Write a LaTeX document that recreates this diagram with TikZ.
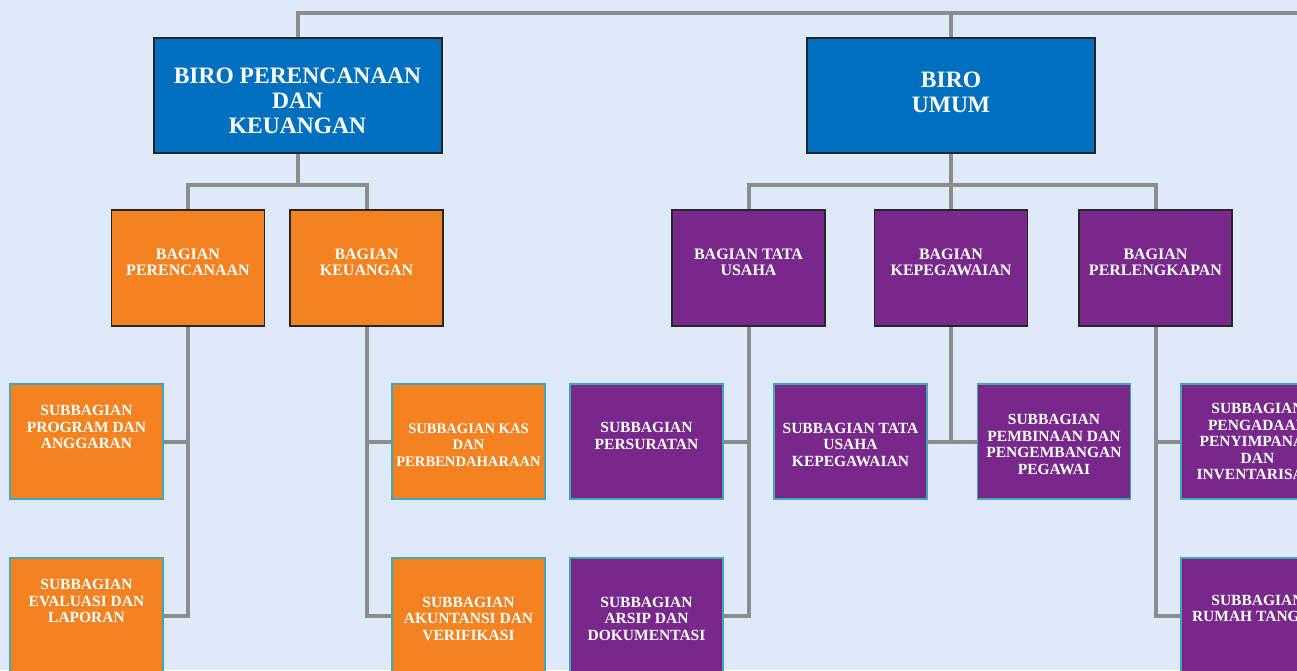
\documentclass[tikz,border=0pt]{standalone}
\usepackage{fontspec}
\setmainfont{Liberation Serif}
\usetikzlibrary{backgrounds}
\definecolor{bgblue}{RGB}{222,234,247}
\definecolor{biroblue}{RGB}{0,112,190}
\definecolor{bagorange}{RGB}{245,130,32}
\definecolor{bagpurple}{RGB}{120,40,138}
\definecolor{linegray}{RGB}{140,140,140}
\definecolor{subteal}{RGB}{70,165,180}
\newcommand{\padtop}[1]{\mbox{}\\[#1]}
\newcommand{\padbot}[1]{\\[#1]\mbox{}}
\begin{document}
\begin{tikzpicture}[x=1pt,y=-1pt,
  conn/.style={draw=linegray,line width=4pt},
  box/.style={rectangle,text=white,align=center,inner sep=1pt,
    font=\bfseries\fontsize{15.5}{16.5}\selectfont},
  birobox/.style={box,fill=biroblue,draw=black!85,line width=2pt,
    minimum width=288pt,minimum height=115pt,
    font=\bfseries\fontsize{23.5}{25}\selectfont},
  bagbox/.style={box,draw=black!85,line width=1.5pt,minimum width=153pt,minimum height=116pt,
    font=\bfseries\fontsize{16}{16}\selectfont},
  subbox/.style={box,draw=subteal,line width=1.5pt,minimum width=153pt,minimum height=115pt}]
\useasboundingbox (0,0) rectangle (1297,670);
\clip (0,0) rectangle (1297,670);
% biro
\node[birobox] (biroPK) at (297.5,95.5) {\padtop{0.5pt}BIRO PERENCANAAN\\DAN\\KEUANGAN};
\node[birobox] (biroU) at (951,95.5) {BIRO\\UMUM\padbot{-19pt}};
\coordinate (topR) at (1310,13);
\coordinate (busL) at (297.5,185);
\coordinate (busR) at (951,185);
% bagian
\node[bagbox,fill=bagorange] (bagPer) at (188,268) {BAGIAN\\PERENCANAAN\padbot{-4pt}};
\node[bagbox,fill=bagorange] (bagKeu) at (366.5,268) {BAGIAN\\KEUANGAN\padbot{-4pt}};
\node[bagbox,fill=bagpurple] (bagTU) at (748.5,268) {BAGIAN TATA\\USAHA\padbot{-4pt}};
\node[bagbox,fill=bagpurple] (bagPeg) at (951,268) {BAGIAN\\KEPEGAWAIAN\padbot{-4pt}};
\node[bagbox,fill=bagpurple] (bagPerl) at (1155.5,268) {BAGIAN\\PERLENGKAPAN\padbot{-4pt}};
% subbagian
\node[subbox,fill=bagorange] (subProg) at (86.5,441.5) {SUBBAGIAN\\PROGRAM DAN\\ANGGARAN\padbot{12pt}};
\node[subbox,fill=bagorange] (subEval) at (86.5,615.5) {SUBBAGIAN\\EVALUASI DAN\\LAPORAN\padbot{12pt}};
\node[subbox,fill=bagorange,font=\bfseries\fontsize{14.6}{16.5}\selectfont] (subKas) at (468.5,441.5)
  {\padtop{0pt}SUBBAGIAN KAS\\DAN\\PERBENDAHARAAN};
\node[subbox,fill=bagorange] (subAkun) at (468.5,615.5) {\padtop{0pt}SUBBAGIAN\\AKUNTANSI DAN\\VERIFIKASI};
\node[subbox,fill=bagpurple] (subSurat) at (646.5,441.5) {SUBBAGIAN\\PERSURATAN\padbot{-5pt}};
\node[subbox,fill=bagpurple] (subArsip) at (646.5,615.5) {\padtop{0pt}SUBBAGIAN\\ARSIP DAN\\DOKUMENTASI};
\node[subbox,fill=bagpurple] (subTUPeg) at (850.5,441.5) {\padtop{0pt}SUBBAGIAN TATA\\USAHA\\KEPEGAWAIAN};
\node[subbox,fill=bagpurple] (subBina) at (1054,441.5) {\padtop{0pt}SUBBAGIAN\\PEMBINAAN DAN\\PENGEMBANGAN\\PEGAWAI};
\node[subbox,fill=bagpurple] (subAdaan) at (1257.5,441.5) {SUBBAGIAN\\PENGADAAN\\PENYIMPANAN\\DAN\\INVENTARISASI};
\node[subbox,fill=bagpurple] (subRT) at (1257.5,615.5) {SUBBAGIAN\\RUMAH TANGGA\padbot{-2pt}};
% connectors
\begin{scope}[on background layer]
\fill[bgblue] (0,0) rectangle (1297,670);
\draw[conn] (biroPK.north) |- (topR);
\draw[conn] (biroU.north) -- (biroU.north |- topR);
\draw[conn] (biroPK.south) -- (busL);
\draw[conn] (bagPer.north) |- (busL) -| (bagKeu.north);
\draw[conn] (biroU.south) -- (busR);
\draw[conn] (bagTU.north) |- (busR) -| (bagPerl.north);
\draw[conn] (bagPeg.north) -- (busR);
\draw[conn] (subProg.east) -| (bagPer.south);
\draw[conn] (bagPer.south) |- (subEval.east);
\draw[conn] (subKas.west) -| (bagKeu.south);
\draw[conn] (bagKeu.south) |- (subAkun.west);
\draw[conn] (subSurat.east) -| (bagTU.south);
\draw[conn] (bagTU.south) |- (subArsip.east);
\draw[conn] (subTUPeg.east) -- (subBina.west);
\draw[conn] (bagPeg.south) -- (bagPeg.south |- subTUPeg.east);
\draw[conn] (subAdaan.west) -| (bagPerl.south);
\draw[conn] (bagPerl.south) |- (subRT.west);
\end{scope}
\end{tikzpicture}
\end{document}
